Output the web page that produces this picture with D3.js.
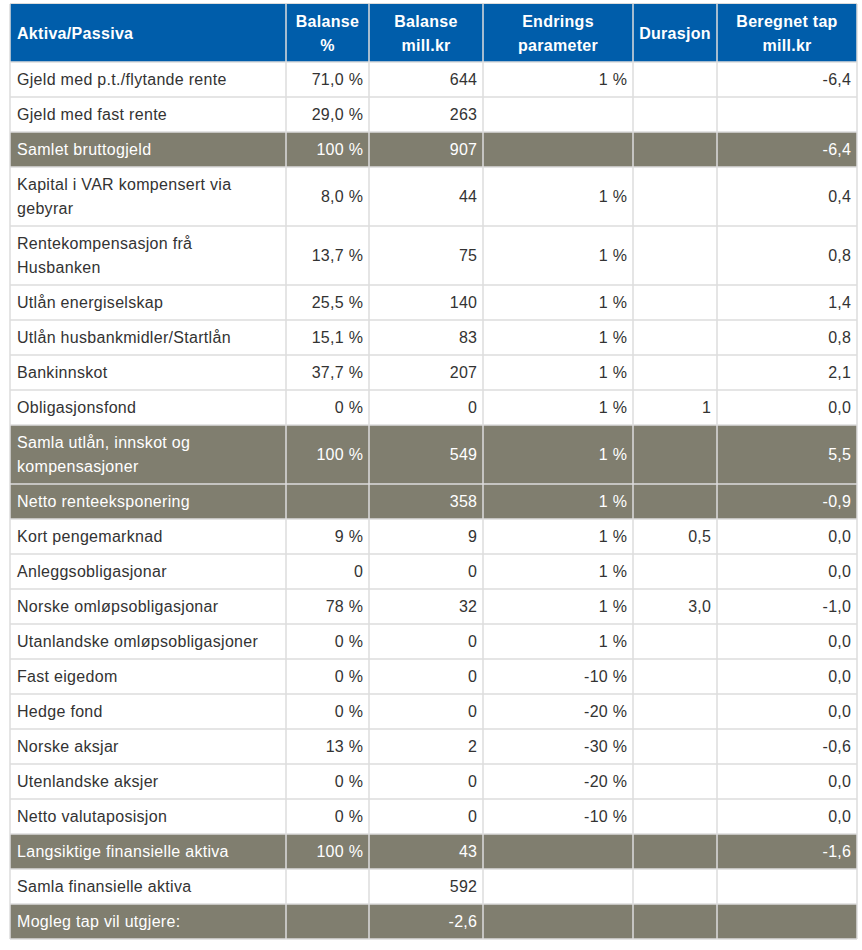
<!DOCTYPE html>
<html><head><meta charset="utf-8">
<script src="https://cdn.jsdelivr.net/npm/d3@7"></script>
<style>
html,body{margin:0;padding:0;background:#fff;}
svg text{font-family:"Liberation Sans",Arial,sans-serif;font-size:16px;letter-spacing:0.3px;}
</style></head>
<body><svg id="chart" width="862" height="950"></svg>
<script>
// ---- data ----
const headers = [["Aktiva/Passiva"], ["Balanse","%"], ["Balanse","mill.kr"], ["Endrings","parameter"], ["Durasjon"], ["Beregnet tap","mill.kr"]];
const labels = [
  ["Gjeld med p.t./flytande rente"],
  ["Gjeld med fast rente"],
  ["Samlet bruttogjeld"],
  ["Kapital i VAR kompensert via","gebyrar"],
  ["Rentekompensasjon frå","Husbanken"],
  ["Utlån energiselskap"],
  ["Utlån husbankmidler/Startlån"],
  ["Bankinnskot"],
  ["Obligasjonsfond"],
  ["Samla utlån, innskot og","kompensasjoner"],
  ["Netto renteeksponering"],
  ["Kort pengemarknad"],
  ["Anleggsobligasjonar"],
  ["Norske omløpsobligasjonar"],
  ["Utanlandske omløpsobligasjoner"],
  ["Fast eigedom"],
  ["Hedge fond"],
  ["Norske aksjar"],
  ["Utenlandske aksjer"],
  ["Netto valutaposisjon"],
  ["Langsiktige finansielle aktiva"],
  ["Samla finansielle aktiva"],
  ["Mogleg tap vil utgjere:"]
];
const balansePct = ["71,0 %","29,0 %","100 %","8,0 %","13,7 %","25,5 %","15,1 %","37,7 %","0 %","100 %","","9 %","0","78 %","0 %","0 %","0 %","13 %","0 %","0 %","100 %","",""];
const balanseMill = ["644","263","907","44","75","140","83","207","0","549","358","9","0","32","0","0","0","2","0","0","43","592","-2,6"];
const endring = ["1 %","","","1 %","1 %","1 %","1 %","1 %","1 %","1 %","1 %","1 %","1 %","1 %","1 %","-10 %","-20 %","-30 %","-20 %","-10 %","","",""];
const durasjon = ["","","","","","","","","1","","","0,5","","3,0","","","","","","","","",""];
const tap = ["-6,4","","-6,4","0,4","0,8","1,4","0,8","2,1","0,0","5,5","-0,9","0,0","0,0","-1,0","0,0","0,0","0,0","-0,6","0,0","0,0","-1,6","",""];
const totalRows = ["Samlet bruttogjeld","Samla utlån, innskot og","Netto renteeksponering","Langsiktige finansielle aktiva","Mogleg tap vil utgjere:"];

// ---- layout ----
const colEdges = [10, 286, 369, 483, 633, 717, 857];
const tableTop = 4, headerH = 58, rowH = 35, lineH = 24, pad = 7, padR = 6, base = 5.8;
const blue = "#005DAA", grey = "#807E6F", lineCol = "#DCDCDC", ink = "#333333";

const svg = d3.select("#chart");
const x = d3.scaleOrdinal().domain(d3.range(6)).range(colEdges.slice(0,6));
const w = i => colEdges[i+1] - colEdges[i];

const rows = labels.map((lab,i) => ({
  cells: [lab, [balansePct[i]], [balanseMill[i]], [endring[i]], [durasjon[i]], [tap[i]]],
  total: totalRows.includes(lab[0]),
  h: rowH + (lab.length - 1) * lineH
}));
let yy = tableTop + headerH;
rows.forEach(r => { r.y = yy; yy += r.h; });
const bottom = yy;

// header
const hg = svg.append("g");
hg.append("rect").attr("x", colEdges[0]).attr("y", tableTop).attr("width", colEdges[6]-colEdges[0]).attr("height", headerH).attr("fill", blue);
headers.forEach((h,i) => {
  const xx = i === 0 ? x(i) + pad : x(i) + w(i)/2;
  const t = hg.append("text").attr("fill","#fff").attr("font-weight","bold")
    .attr("text-anchor", i === 0 ? "start" : "middle");
  const y0 = tableTop + headerH/2 - (h.length-1)*lineH/2 + base;
  h.forEach((s,k) => t.append("tspan").attr("x", xx).attr("y", y0 + k*lineH).text(s));
});

// body
const rg = svg.append("g").selectAll("g").data(rows).join("g").attr("transform", d => `translate(0,${d.y})`);
rg.append("rect").attr("x", colEdges[0]).attr("y", 0).attr("width", colEdges[6]-colEdges[0]).attr("height", d => d.h)
  .attr("fill", d => d.total ? grey : "#fff");
rg.each(function(r){
  const g = d3.select(this);
  r.cells.forEach((c,i) => {
    if (!c[0]) return;
    const t = g.append("text").attr("fill", r.total ? "#fff" : ink)
      .attr("text-anchor", i === 0 ? "start" : "end");
    const xx = i === 0 ? x(i) + pad : x(i) + w(i) - padR + 0.3;
    const y0 = r.h/2 - (c.length-1)*lineH/2 + base;
    c.forEach((s,k) => t.append("tspan").attr("x", xx).attr("y", y0 + k*lineH).text(s));
  });
});

// grid lines
const gl = svg.append("g").attr("stroke", lineCol).attr("stroke-width", 1.5).attr("fill","none");
[tableTop + headerH, ...rows.map(r => r.y + r.h)].forEach(y => gl.append("line").attr("x1", colEdges[0]).attr("x2", colEdges[6]).attr("y1", y).attr("y2", y));
gl.append("line").attr("x1", colEdges[0]).attr("x2", colEdges[6]).attr("y1", tableTop-0.5).attr("y2", tableTop-0.5).attr("stroke-width",1);
colEdges.forEach(cx => gl.append("line").attr("x1", cx).attr("x2", cx).attr("y1", tableTop).attr("y2", bottom));
</script></body></html>
